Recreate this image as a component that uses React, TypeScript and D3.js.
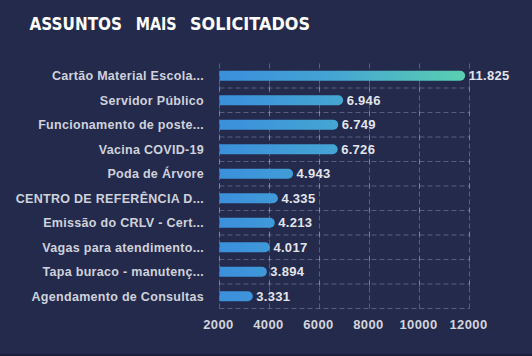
import React from "react";
import * as d3 from "d3";

const categories = [
  "Cartão Material Escola...",
  "Servidor Público",
  "Funcionamento de poste...",
  "Vacina COVID-19",
  "Poda de Árvore",
  "CENTRO DE REFERÊNCIA D...",
  "Emissão do CRLV - Cert...",
  "Vagas para atendimento...",
  "Tapa buraco - manutenç...",
  "Agendamento de Consultas",
];
const values = [11825, 6946, 6749, 6726, 4943, 4335, 4213, 4017, 3894, 3331];
const xTicks = [2000, 4000, 6000, 8000, 10000, 12000];
const titleWords = ["ASSUNTOS", "MAIS", "SOLICITADOS"];

const W = 532;
const H = 356;
const left = 219.5;
const right = 469.5;
const top = 63.5;
const bottom = 308.5;

const fmt = (v: number) => d3.format(",")(v).replace(/,/g, ".");

export default function App() {
  const x = d3.scaleLinear().domain([2000, 12000]).range([left, right]);
  const y = d3.scaleBand<string>().domain(categories).range([top, bottom]);
  const bh = 10;
  const grid = "rgba(200,205,225,0.32)";
  const titleX = [29.5, 135.7, 190];
  const titleLen = [92.5, 41, 120];
  return (
    <svg width={W} height={H} style={{ position: "absolute", left: 0, top: 0, display: "block" }}>
      <defs>
        <linearGradient id="barGrad" gradientUnits="userSpaceOnUse" x1={left} x2={x(11825)} y1={0} y2={0}>
          <stop offset="0" stopColor="#3b8fdc" />
          <stop offset="0.45" stopColor="#44a4d4" />
          <stop offset="1" stopColor="#5ad0b0" />
        </linearGradient>
      </defs>
      <rect x={0} y={0} width={W} height={H} fill="#242a4b" />
      <rect x={0} y={H - 2} width={W} height={2} fill="#1b2039" />
      {titleWords.map((w, i) => (
        <text
          key={w}
          x={titleX[i]}
          y={29.5}
          fill="#ffffff"
          fontFamily="'DejaVu Sans', sans-serif"
          fontWeight="bold"
          fontSize={17}
          textLength={titleLen[i]}
          lengthAdjust="spacingAndGlyphs"
        >
          {w}
        </text>
      ))}
      {xTicks.map((t) => (
        <line key={"v" + t} x1={x(t)} x2={x(t)} y1={top} y2={bottom} stroke={grid} strokeWidth={1} strokeDasharray="5,3" />
      ))}
      {categories.map((c, i) =>
        i === 0 ? null : (
          <line key={"h" + c} x1={left} x2={right} y1={y(c)!} y2={y(c)!} stroke={grid} strokeWidth={1} strokeDasharray="5,3" />
        )
      )}
      <line x1={left} x2={right} y1={bottom} y2={bottom} stroke={grid} strokeWidth={1} strokeDasharray="5,3" />
      {xTicks.map((t) =>
        categories.map((c, i) =>
          i === 0 ? null : (
            <line key={"tc" + t + c} x1={x(t)} x2={x(t)} y1={y(c)! - 3} y2={y(c)! + 3} stroke={grid} strokeWidth={1} />
          )
        )
      )}
      {categories.map((c, i) => {
        const cy = y(c)! + y.bandwidth() / 2;
        const x0 = x(2000);
        const x1 = x(values[i]);
        const r = bh / 2;
        const path = `M${x0},${cy - r} L${x1 - r},${cy - r} A${r},${r} 0 0 1 ${x1 - r},${cy + r} L${x0},${cy + r} Z`;
        return <path key={"b" + c} d={path} fill="url(#barGrad)" />;
      })}
      {categories.map((c, i) => (
        <text
          key={"vl" + c}
          x={x(values[i]) + 3.5}
          y={y(c)! + y.bandwidth() / 2 + 4.5}
          fill="#e2e4ec"
          fontFamily="'Liberation Sans', Arial, sans-serif"
          fontWeight="bold"
          fontSize={13}
          letterSpacing={0.3}
        >
          {fmt(values[i])}
        </text>
      ))}
      {categories.map((c) => (
        <text
          key={"cl" + c}
          x={204}
          y={y(c)! + y.bandwidth() / 2 + 4.3}
          textAnchor="end"
          fill="#cfd2dc"
          fontFamily="'Liberation Sans', Arial, sans-serif"
          fontWeight="bold"
          fontSize={12.5}
          letterSpacing={0.3}
        >
          {c}
        </text>
      ))}
      {xTicks.map((t) => (
        <text
          key={"xt" + t}
          x={x(t) - 1}
          y={329}
          textAnchor="middle"
          fill="#d2d5de"
          fontFamily="'Liberation Sans', Arial, sans-serif"
          fontWeight="bold"
          fontSize={13}
          letterSpacing={0.4}
        >
          {t}
        </text>
      ))}
    </svg>
  );
}
